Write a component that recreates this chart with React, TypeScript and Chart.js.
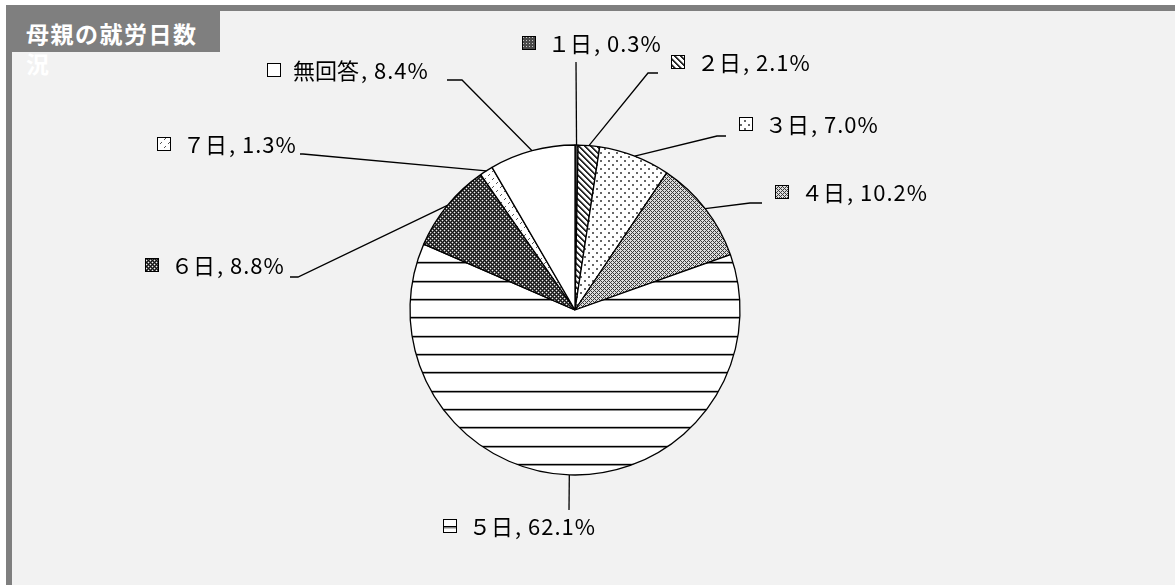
import React, { useEffect, useRef } from "react";
import { Chart, registerables } from "chart.js";

Chart.register(...registerables);

// ---- data ----
const categories = ["1日", "2日", "3日", "4日", "5日", "6日", "7日", "無回答"];
const categoryLabels = ["１日", "２日", "３日", "４日", "５日", "６日", "７日", "無回答"];
const percents = [0.3, 2.1, 7.0, 10.2, 62.1, 8.8, 1.3, 8.4];
const titleLines = ["母親の就労日数", "況"];

// ---- label layout (relative to pie centre) ----
// path: leader-line points after the arc edge point; key: top-left of legend key box
const labelLayout = [
  { path: [[1, -248]], key: [-53, -274] },
  { path: [[73, -237], [83, -237]], key: [96, -255] },
  { path: [[142, -174], [151, -174]], key: [164, -193] },
  { path: [[175, -107], [187, -107]], key: [200, -125] },
  { path: [[-6, 200]], key: [-132, 209] },
  { path: [[-277, -33], [-285, -33]], key: [-430, -52] },
  { path: [[-272, -156], [-275, -156]], key: [-418, -173] },
  { path: [[-113, -230], [-128, -230]], key: [-308, -247] },
];

type PixFn = (x: number, y: number) => string | null;

function makePattern(w: number, h: number, bg: string, fn: PixFn): CanvasPattern | string {
  const c = document.createElement("canvas");
  c.width = w;
  c.height = h;
  const ctx = c.getContext("2d");
  if (!ctx) return bg;
  ctx.fillStyle = bg;
  ctx.fillRect(0, 0, w, h);
  for (let y = 0; y < h; y++) {
    for (let x = 0; x < w; x++) {
      const col = fn(x, y);
      if (col) {
        ctx.fillStyle = col;
        ctx.fillRect(x, y, 1, 1);
      }
    }
  }
  const p = ctx.createPattern(c, "repeat");
  return p || bg;
}

const mod = (a: number, n: number) => ((a % n) + n) % n;

function buildPatterns() {
  const p1 = makePattern(3, 3, "#4a4a4a", (x, y) => (x === 1 && y === 1 ? "#c8c8c8" : null));
  const p2 = makePattern(6, 6, "#ffffff", (x, y) => {
    const d = mod(x - y, 6);
    if (d < 2) return "#2a2a2a";
    if (d === 2) return "#9a9a9a";
    return null;
  });
  const p3 = makePattern(8, 8, "#ffffff", (x, y) => {
    const a = x < 2 && y < 2;
    const b = x >= 4 && x < 6 && y >= 4 && y < 6;
    return a || b ? "#666666" : null;
  });
  const p4 = makePattern(4, 4, "#ffffff", (x, y) => {
    const lattice = mod(x + y, 4) === 0 || mod(x - y, 4) === 0;
    return lattice ? "#3a3a3a" : "#dcdcdc";
  });
  const p5 = makePattern(8, 55, "#ffffff", (_x, y) => {
    const m = [6, 24, 42];
    if (m.includes(y)) return "#000000";
    if (m.includes(y - 1)) return "#8a8a8a";
    if (m.includes(y + 1)) return "#d0d0d0";
    return null;
  });
  const p6 = makePattern(4, 4, "#444444", (x, y) => {
    const lattice = mod(x + y, 4) === 0 || mod(x - y, 4) === 0;
    if (lattice) return "#141414";
    if ((x === 2 && y === 0) || (x === 0 && y === 2)) return "#f0f0f0";
    return "#555555";
  });
  const p7 = makePattern(8, 8, "#ffffff", (x, y) => {
    if ((x + y) % 8 === 7 && x % 4 < 2) return "#555555";
    return null;
  });
  return [p1, p2, p3, p4, p5, p6, p7, "#ffffff"];
}

const FONT = "'Noto Sans CJK JP', 'Noto Sans', sans-serif";

export default function App() {
  const canvasRef = useRef<HTMLCanvasElement | null>(null);

  useEffect(() => {
    const canvas = canvasRef.current;
    if (!canvas) return;
    const patterns = buildPatterns();

    const labelPlugin = {
      id: "leaderLabels",
      afterDatasetsDraw(chart: any) {
        const ctx = chart.ctx as CanvasRenderingContext2D;
        const meta = chart.getDatasetMeta(0);
        ctx.save();
        meta.data.forEach((arc: any, i: number) => {
          const { x, y, startAngle, endAngle, outerRadius } = arc.getProps(
            ["x", "y", "startAngle", "endAngle", "outerRadius"],
            true
          );
          const mid = (startAngle + endAngle) / 2;
          const sx = x + Math.cos(mid) * outerRadius;
          const sy = y + Math.sin(mid) * outerRadius;
          const lay = labelLayout[i];
          ctx.beginPath();
          ctx.moveTo(sx, sy);
          lay.path.forEach((pt) => ctx.lineTo(x + pt[0], y + pt[1]));
          ctx.strokeStyle = "#000";
          ctx.lineWidth = 1.3;
          ctx.stroke();

          const kx = Math.round(x + lay.key[0]);
          const ky = Math.round(y + lay.key[1]);
          const ks = 14;
          ctx.fillStyle = patterns[i] as any;
          ctx.fillRect(kx, ky, ks, ks);
          if (i === 4) {
            // striped key: show one of the horizontal rules
            ctx.fillStyle = "#ffffff";
            ctx.fillRect(kx, ky, ks, ks);
            ctx.fillStyle = "#000";
            ctx.fillRect(kx, ky + 7, ks, 1.5);
            ctx.fillStyle = "#888";
            ctx.fillRect(kx, ky + 8.5, ks, 1);
          }
          ctx.strokeStyle = "#000";
          ctx.lineWidth = 1;
          ctx.strokeRect(kx + 0.5, ky + 0.5, ks - 1, ks - 1);

          ctx.fillStyle = "#000";
          ctx.textBaseline = "middle";
          ctx.textAlign = "left";
          ctx.font = `22px ${FONT}`;
          const t1 = categoryLabels[i];
          const tx = kx + ks + 12;
          const ty = ky + ks / 2 + 1;
          ctx.fillText(t1, tx, ty);
          const w1 = ctx.measureText(t1).width;
          const t2 = `, ${percents[i].toFixed(1)}%`;
          (ctx as any).letterSpacing = "1px";
          ctx.fillText(t2, tx + w1 + 2, ty);
          (ctx as any).letterSpacing = "0px";
        });
        ctx.restore();
      },
    };

    const chart = new Chart(canvas, {
      type: "pie",
      data: {
        labels: categories,
        datasets: [
          {
            data: percents,
            backgroundColor: patterns as any,
            borderColor: "#000000",
            borderWidth: 1.3,
            radius: 165,
          } as any,
        ],
      },
      options: {
        animation: false,
        responsive: false,
        maintainAspectRatio: false,
        devicePixelRatio: 1,
        layout: { padding: { left: 0, right: 25, top: 35, bottom: 0 } },
        plugins: {
          legend: { display: false },
          tooltip: { enabled: false },
          title: { display: false },
        },
      } as any,
      plugins: [labelPlugin],
    });
    return () => chart.destroy();
  }, []);

  return (
    <div
      style={{
        position: "absolute",
        left: 0,
        top: 0,
        width: 1175,
        height: 585,
        background: "#ffffff",
        overflow: "hidden",
      }}
    >
      <div
        style={{
          position: "absolute",
          left: 6,
          top: 5,
          right: 0,
          bottom: 0,
          background: "#f2f2f2",
          borderTop: "6px solid #7f7f7f",
          borderLeft: "6px solid #7f7f7f",
        }}
      />
      <div
        style={{
          position: "absolute",
          left: 6,
          top: 5,
          width: 214,
          height: 47,
          background: "#7f7f7f",
        }}
      />
      <div
        style={{
          position: "absolute",
          left: 26,
          top: 18,
          fontFamily: FONT,
          fontWeight: 700,
          fontSize: 23,
          lineHeight: "30px",
          color: "#ffffff",
          letterSpacing: 1.5,
          whiteSpace: "nowrap",
        }}
      >
        {titleLines.map((t, i) => (
          <div key={i}>{t}</div>
        ))}
      </div>
      <canvas
        ref={canvasRef}
        width={1175}
        height={585}
        style={{ position: "absolute", left: 0, top: 0, width: 1175, height: 585 }}
      />
    </div>
  );
}
